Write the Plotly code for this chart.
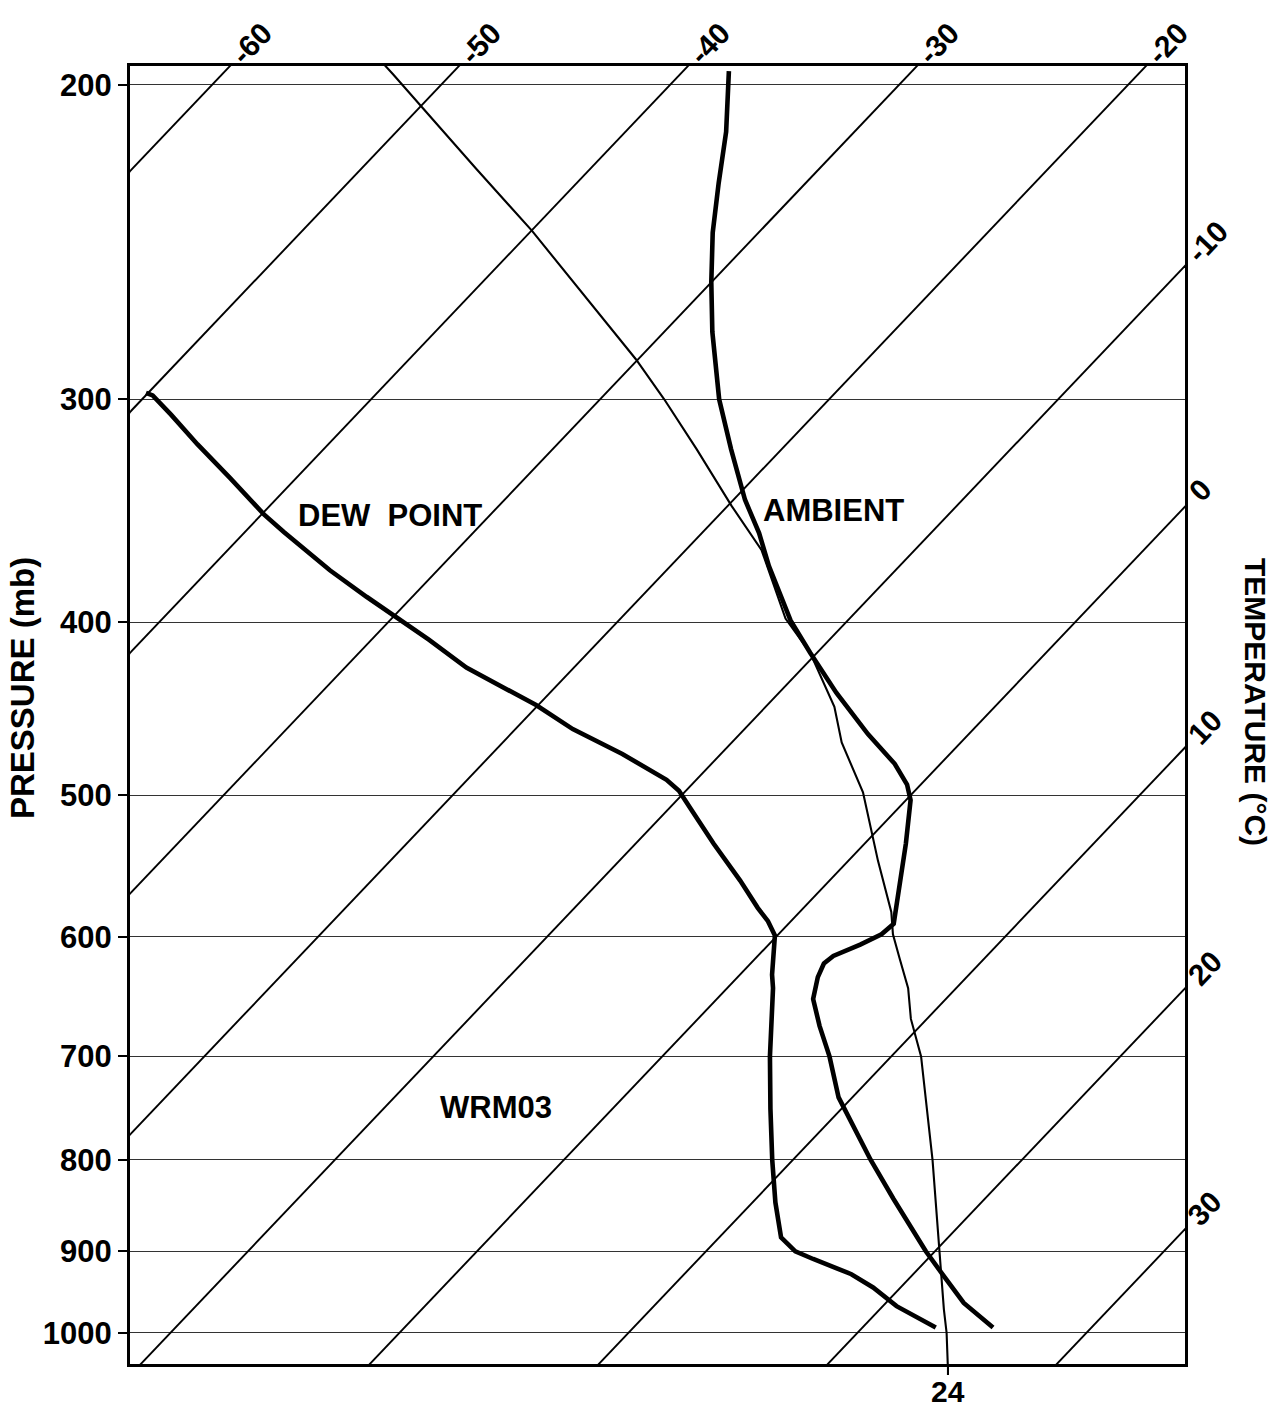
import math
import numpy as np
import plotly.graph_objects as go

# ------------------------------------------------------------------ data
pressure_ticks = [200, 300, 400, 500, 600, 700, 800, 900, 1000]
isotherm_temps = [-70, -60, -50, -40, -30, -20, -10, 0, 10, 20, 30, 40]
top_label_temps = [-60, -50, -40, -30, -20]
right_label_temps = [-10, 0, 10, 20, 30]

dew_point_pressure = [297.5, 298.5, 306, 318, 332, 348, 356, 374, 387, 397, 409, 424, 445, 459,
                      474, 490, 497, 510, 532, 558, 578, 588, 599, 630, 641, 700, 749, 800,
                      845, 884, 900, 909, 927, 943, 966, 993]
dew_point_temp = [-50.1, -49.7, -48.1, -45.7, -42.9, -39.9, -38.3, -34.7, -32.0, -29.9, -27.5,
                  -24.7, -20.1, -17.5, -14.3, -11.3, -10.3, -8.9, -6.6, -3.9, -2.0, -1.0, -0.1,
                  1.4, 2.0, 4.7, 6.9, 9.1, 11.0, 12.7, 13.9, 15.0, 17.3, 18.8, 20.6, 23.2]

ambient_pressure = [196.5, 212.5, 227, 242, 258, 275, 300, 320, 341.5, 356.5, 372, 399, 416, 438,
                    462, 480, 493, 503, 532, 568, 590, 598, 606, 615, 621, 632, 650, 673, 700,
                    738, 800, 841, 900, 929, 962, 993]
ambient_temp = [-38.0, -35.6, -33.8, -32.0, -30.0, -27.9, -24.8, -22.2, -19.5, -17.5, -15.7, -12.5,
                -10.3, -7.5, -4.4, -2.0, -0.6, 0.2, 1.8, 3.6, 4.6, 4.5, 4.0, 3.3, 3.2, 3.5, 4.2,
                5.6, 7.3, 9.4, 13.4, 16.0, 19.6, 21.4, 23.4, 25.7]

adiabat_pressure = [194, 197.4, 205.2, 222.8, 241.3, 262.5, 284.9, 300, 320, 344.4, 364.3, 398,
                    416, 446, 467, 498, 544, 581, 598, 617, 641, 667, 700, 800, 900, 970, 1000, 1049]
adiabat_temp = [-53.6, -52.5, -50.1, -45.0, -40.0, -35.0, -30.1, -27.2, -23.7, -19.8, -16.7, -12.8,
                -10.3, -7.0, -5.2, -2.2, 1.3, 4.0, 5.0, 6.3, 7.9, 9.3, 11.3, 16.1, 20.2, 22.8, 23.9, 25.5]
adiabat_label = 24
sounding_name = "WRM03"

# ------------------------------------------------------------------ skew-T geometry
SKEW = 32.2                      # deg C of horizontal shift per unit ln(1000/p)
W, H = 1276, 1407
L_PX, R_PX, T_PX, B_PX = 130, 1185, 66, 1364
X_MIN, X_MAX = -11.76, 34.31
P_TOP, P_BOT = 195.2, 1040.8
FONT = "Liberation Sans, Arial, sans-serif"
WEIGHT = "bold"


def skew(t, p):
    return np.asarray(t, float) + SKEW * np.log(1000.0 / np.asarray(p, float))


def px_x(xv):
    return L_PX + (xv - X_MIN) / (X_MAX - X_MIN) * (R_PX - L_PX)


def px_y(p):
    return T_PX + (math.log10(p) - math.log10(P_TOP)) / (math.log10(P_BOT) - math.log10(P_TOP)) * (B_PX - T_PX)


def paper_x(px):
    return (px - L_PX) / (R_PX - L_PX)


def paper_y(py):
    return (B_PX - py) / (B_PX - T_PX)


def fnt(size):
    return dict(size=size, color="black", family=FONT, weight=WEIGHT)


# angle of isotherms on screen
dx_ln = SKEW * (R_PX - L_PX) / (X_MAX - X_MIN)
dy_ln = (B_PX - T_PX) / (math.log(P_BOT) - math.log(P_TOP))
ang = math.atan2(dy_ln, dx_ln)

fig = go.Figure()

# isotherms
xs, ys = [], []
for t in isotherm_temps:
    pp = [1150, 150]
    xs += list(skew([t, t], pp)) + [None]
    ys += pp + [None]
fig.add_trace(go.Scatter(x=xs, y=ys, mode="lines", line=dict(color="black", width=1.9),
                         hoverinfo="skip", showlegend=False))

# moist adiabat
fig.add_trace(go.Scatter(x=skew(adiabat_temp, adiabat_pressure), y=adiabat_pressure, mode="lines",
                         line=dict(color="black", width=2.1), showlegend=False, name="adiabat"))
# dew point
fig.add_trace(go.Scatter(x=skew(dew_point_temp, dew_point_pressure), y=dew_point_pressure, mode="lines",
                         line=dict(color="black", width=4.6), showlegend=False, name="DEW POINT"))
# ambient
fig.add_trace(go.Scatter(x=skew(ambient_temp, ambient_pressure), y=ambient_pressure, mode="lines",
                         line=dict(color="black", width=4.6), showlegend=False, name="AMBIENT"))

ann = []
# top isotherm labels
for t in top_label_temps:
    xc = px_x(float(skew(t, P_TOP)))
    d = 31
    cx, cy = xc + d * math.cos(ang), T_PX - d * math.sin(ang)
    ann.append(dict(x=paper_x(cx), y=paper_y(cy), xref="paper", yref="paper", text=str(t),
                    textangle=-math.degrees(ang), showarrow=False, xanchor="center", yanchor="middle",
                    font=fnt(30)))
# right isotherm labels
for t in right_label_temps:
    lnp = (X_MAX - t) / SKEW
    p_cross = 1000.0 * math.exp(-lnp)
    yc = px_y(p_cross)
    d = 18 + 5 * len(str(t))
    cx, cy = R_PX + d * math.cos(ang), yc - d * math.sin(ang)
    ann.append(dict(x=paper_x(cx), y=paper_y(cy), xref="paper", yref="paper", text=str(t),
                    textangle=-math.degrees(ang), showarrow=False, xanchor="center", yanchor="middle",
                    font=fnt(30)))

# adiabat label at bottom
x_bot = float(skew(adiabat_temp[-1], adiabat_pressure[-1]))
ann.append(dict(x=x_bot, y=paper_y(1391), xref="x", yref="paper", text=str(adiabat_label),
                showarrow=False, xanchor="center", yanchor="middle", font=fnt(30)))

# curve names
for txt, cx, cy in [("DEW\u00a0 POINT", 390, 515), ("AMBIENT", 833, 511), (sounding_name, 496, 1107)]:
    ann.append(dict(x=paper_x(cx), y=paper_y(cy), xref="paper", yref="paper", text=txt,
                    showarrow=False, xanchor="center", yanchor="middle", font=fnt(31)))

# axis titles
ann.append(dict(x=paper_x(23), y=paper_y(688), xref="paper", yref="paper", text="PRESSURE (mb)",
                textangle=-90, showarrow=False, xanchor="center", yanchor="middle", font=fnt(33)))
ann.append(dict(x=paper_x(1256), y=paper_y(702), xref="paper", yref="paper", text="TEMPERATURE (°C)",
                textangle=90, showarrow=False, xanchor="center", yanchor="middle", font=fnt(30)))

shapes = [dict(type="line", xref="x", yref="paper", x0=x_bot, x1=x_bot, y0=0, y1=paper_y(B_PX + 11),
               line=dict(color="black", width=2.1))]

fig.update_layout(
    width=W, height=H,
    margin=dict(l=L_PX, r=W - R_PX, t=T_PX, b=H - B_PX, pad=0),
    paper_bgcolor="white", plot_bgcolor="white",
    annotations=ann, shapes=shapes,
    font=dict(family=FONT, color="black"),
    xaxis=dict(range=[X_MIN, X_MAX], showgrid=False, zeroline=False, showticklabels=False, ticks="",
               showline=True, mirror=True, linecolor="black", linewidth=3),
    yaxis=dict(type="log", range=[math.log10(P_BOT), math.log10(P_TOP)], tickvals=pressure_ticks,
               ticktext=[str(p) for p in pressure_ticks], ticks="outside", ticklen=9, tickwidth=2,
               tickcolor="black", tickfont=fnt(31),
               showgrid=True, gridcolor="#333333", gridwidth=1.2, zeroline=False,
               showline=True, mirror=True, linecolor="black", linewidth=3),
)

fig.write_html("out.html", config={"displayModeBar": False},
               post_script="document.body.style.margin='0';document.body.style.overflow='hidden';")
